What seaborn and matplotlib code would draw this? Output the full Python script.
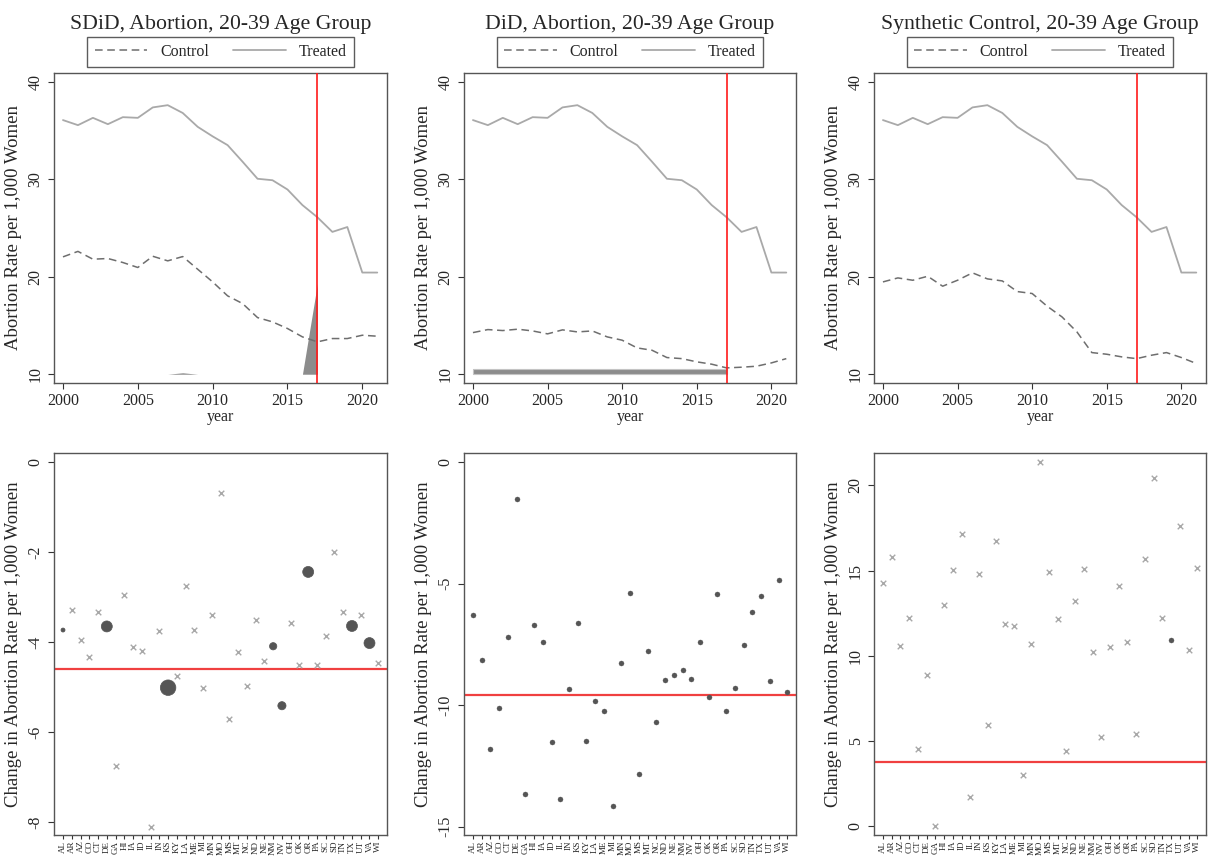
import matplotlib
matplotlib.use("Agg")
import matplotlib.pyplot as plt
import seaborn as sns
import numpy as np
import pandas as pd

sns.set_style("white")
plt.rcParams['font.family'] = ['Liberation Serif', 'DejaVu Serif']
plt.rcParams['axes.unicode_minus'] = False

# ---- data ----
years = list(range(2000, 2022))
treated = [36.07, 35.55, 36.3, 35.65, 36.37, 36.3, 37.37, 37.6, 36.8, 35.38, 34.4,
           33.5, 31.8, 30.05, 29.9, 28.95, 27.35, 26.1, 24.6, 25.1, 20.43, 20.43]
control_sdid = [22.04, 22.6, 21.8, 21.87, 21.46, 20.95, 22.1, 21.63, 22.07, 20.77, 19.47,
                18.04, 17.25, 15.81, 15.37, 14.69, 13.83, 13.32, 13.66, 13.66, 14.0, 13.9]
control_did = [14.27, 14.58, 14.48, 14.62, 14.44, 14.14, 14.55, 14.34, 14.44, 13.83, 13.49,
               12.7, 12.46, 11.71, 11.6, 11.27, 11.03, 10.65, 10.72, 10.82, 11.16, 11.6]
control_sc = [19.47, 19.88, 19.64, 20.05, 19.03, 19.64, 20.4, 19.78, 19.57, 18.48, 18.28,
              16.98, 15.88, 14.34, 12.22, 12.05, 11.78, 11.6, 11.95, 12.22, 11.71, 11.1]

# time weights (drawn as area above y=10), pre-period years 2000-2017
wyears = list(range(2000, 2018))
lambda_sdid = [0, 0, 0, 0, 0, 0, 0, 0, 0.15, 0, 0, 0, 0, 0, 0, 0, 0, 9.3]
lambda_did = [0.55] * 18
treat_year = 2017

states = ["AL", "AR", "AZ", "CO", "CT", "DE", "GA", "HI", "IA", "ID", "IL", "IN", "KS",
          "KY", "LA", "ME", "MI", "MN", "MO", "MS", "MT", "NC", "ND", "NE", "NM", "NV",
          "OH", "OK", "OR", "PA", "SC", "SD", "TN", "TX", "UT", "VA", "WI"]

eff_sdid = [-3.73, -3.28, -3.96, -4.33, -3.34, -3.65, -6.75, -2.96, -4.10, -4.19, -8.10,
            -3.76, -5.01, -4.76, -2.75, -3.73, -5.02, -3.39, -0.69, -5.71, -4.21, -4.97,
            -3.51, -4.41, -4.09, -5.41, -3.57, -4.50, -2.44, -4.51, -3.87, -2.00, -3.33,
            -3.64, -3.39, -4.02, -4.47]
w_sdid = [0.012, 0, 0, 0, 0, 0.09, 0, 0, 0, 0, 0, 0, 0.18, 0, 0, 0, 0, 0, 0, 0, 0, 0,
          0, 0, 0.04, 0.05, 0, 0, 0.09, 0, 0, 0, 0, 0.09, 0, 0.09, 0]
att_sdid = -4.59

eff_did = [-6.31, -8.14, -11.79, -10.10, -7.19, -1.51, -13.64, -6.70, -7.42, -11.51, -13.87,
           -9.33, -6.64, -11.49, -9.83, -10.22, -14.16, -8.26, -5.37, -12.82, -7.77, -10.68,
           -8.96, -8.78, -8.55, -8.93, -7.41, -9.66, -5.42, -10.24, -9.28, -7.51, -6.16,
           -5.50, -9.02, -4.84, -9.44]
att_did = -9.59

eff_sc = [14.29, 15.79, 10.55, 12.21, 4.52, 8.85, 0.0, 13.01, 15.05, 17.16, 1.70, 14.79,
          5.95, 16.71, 11.88, 11.78, 2.99, 10.67, 21.37, 14.93, 12.17, 4.40, 13.21, 15.09,
          10.25, 5.21, 10.51, 14.07, 10.82, 5.42, 15.68, 20.45, 12.21, 10.92, 17.59, 10.35,
          15.13]
w_sc = [0] * 33 + [1] + [0] * 3
att_sc = 3.78

titles = ["SDiD, Abortion, 20-39 Age Group", "DiD, Abortion, 20-39 Age Group",
          "Synthetic Control, 20-39 Age Group"]

# ---- figure ----
W, H = 1208, 859
fig = plt.figure(figsize=(W / 100, H / 100), dpi=100)

def px_axes(x0, y0, x1, y1):
    return fig.add_axes([x0 / W, 1 - y1 / H, (x1 - x0) / W, (y1 - y0) / H])

lefts = [54, 464, 874]
rights = [387, 796, 1206]
controls = [control_sdid, control_did, control_sc]

GREY_T = "#a9a9a9"
GREY_C = "#6e6e6e"
RED = "#ff1a1a"
FRAME = "#555555"

def style_axes(ax):
    for s in ax.spines.values():
        s.set_color(FRAME)
        s.set_linewidth(1.0)
    ax.tick_params(direction="out", length=4, width=0.8, color="#333333",
                   bottom=True, left=True, labelsize=11.5)

for i in range(3):
    ax = px_axes(lefts[i], 73, rights[i], 383)
    df = pd.DataFrame({"year": years, "Control": controls[i], "Treated": treated})
    sns.lineplot(data=df, x="year", y="Control", ax=ax, color=GREY_C, lw=1.1,
                 label="Control")
    ax.lines[-1].set_dashes((5, 3))
    sns.lineplot(data=df, x="year", y="Treated", ax=ax, color=GREY_T, lw=1.3,
                 label="Treated")
    if i == 0:
        ax.fill_between(wyears, 10, 10 + np.array(lambda_sdid), color="#8c8c8c",
                        lw=0, zorder=1)
    elif i == 1:
        ax.fill_between(wyears, 10, 10 + np.array(lambda_did), color="#8c8c8c",
                        edgecolor="#c4c4c4", lw=0.8, zorder=1)
    ax.axvline(treat_year, color=RED, lw=1.2, zorder=5)
    ax.set_xlim(1999.4, 2021.65)
    ax.set_ylim(9.1, 40.9)
    ax.set_xticks([2000, 2005, 2010, 2015, 2020])
    ax.set_yticks([10, 20, 30, 40])
    for t in ax.get_yticklabels():
        t.set_rotation(90)
        t.set_va("center")
    ax.set_xlabel("year", fontsize=11.5, labelpad=0)
    ax.set_ylabel("Abortion Rate per 1,000 Women", fontsize=13.5, labelpad=4)
    style_axes(ax)
    leg = ax.legend(loc="lower center", bbox_to_anchor=(0.5, 1.019), ncol=2,
                    frameon=True, fancybox=False, edgecolor="#333333", fontsize=11.5,
                    handlelength=3.3, columnspacing=1.5, borderpad=0.45,
                    handletextpad=0.8, borderaxespad=0)
    leg.get_frame().set_linewidth(1.0)
    ax.text(0.5, 1.155, titles[i], transform=ax.transAxes, ha="center", va="center",
            fontsize=15.7)

# bottom panels
panels = [
    (eff_sdid, w_sdid, att_sdid, (-8.28, 0.2), [0, -2, -4, -6, -8]),
    (eff_did, [1] * len(states), att_did, (-15.34, 0.37), [0, -5, -10, -15]),
    (eff_sc, w_sc, att_sc, (-0.51, 21.9), [0, 5, 10, 15, 20]),
]
for i, (eff, w, att, ylim, yt) in enumerate(panels):
    ax = px_axes(lefts[i], 453, rights[i], 835)
    df = pd.DataFrame({"state": states, "pos": range(len(states)), "eff": eff, "w": w})
    zero = df[df["w"] == 0]
    pos = df[df["w"] > 0]
    sns.scatterplot(data=zero, x="pos", y="eff", ax=ax, marker="x", color="#a8a8a8",
                    s=16, linewidth=1.0, legend=False)
    if i == 0:
        sns.scatterplot(data=pos, x="pos", y="eff", ax=ax, size="w", sizes=(0, 125),
                        size_norm=(0, 0.18), color="#555555", edgecolor="#555555",
                        linewidth=0.5, legend=False)
    else:
        sns.scatterplot(data=pos, x="pos", y="eff", ax=ax, color="#555555", s=13,
                        edgecolor="#555555", linewidth=0.3, legend=False)
    ax.axhline(att, color="#f04040", lw=1.6, zorder=0)
    ax.set_xlim(-1.03, len(states))
    ax.set_ylim(*ylim)
    ax.set_yticks(yt)
    ax.set_xticks(range(len(states)))
    ax.set_xticklabels(states, rotation=90, fontsize=6.5)
    for t in ax.get_yticklabels():
        t.set_rotation(90)
        t.set_va("center")
    ax.set_xlabel("")
    ax.set_ylabel("Change in Abortion Rate per 1,000 Women", fontsize=13.5, labelpad=4)
    style_axes(ax)
    ax.tick_params(axis="x", labelsize=6.5, length=3, pad=1)

fig.savefig("out.png", dpi=100)
